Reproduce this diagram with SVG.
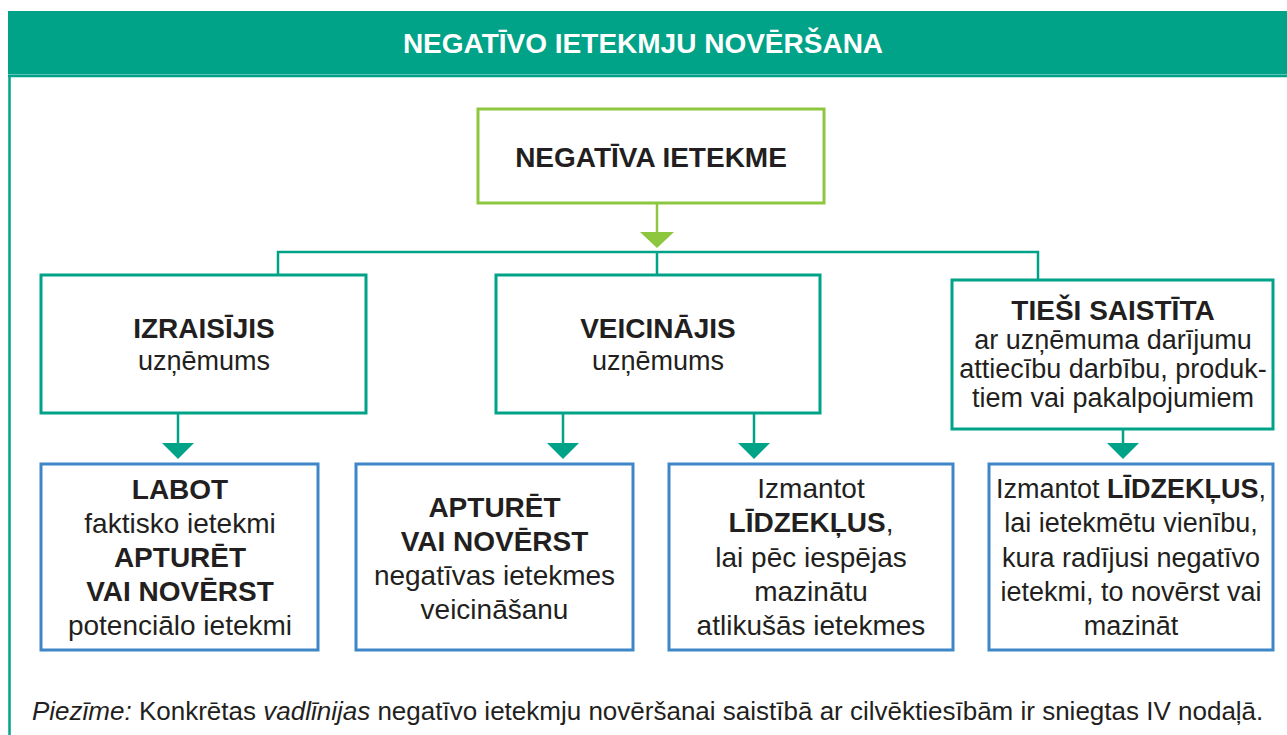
<svg xmlns="http://www.w3.org/2000/svg" width="1287" height="735" viewBox="0 0 1287 735">
<defs>
<style>
.t{font-family:"Liberation Sans",Arial,Helvetica,sans-serif;fill:#231F20;text-anchor:middle}
.b{font-weight:bold}
.f28{font-size:28px}
.f27{font-size:27px}
.teal{fill:none;stroke:#00A388;stroke-width:3}
.blue{fill:#fff;stroke:#3E86C8;stroke-width:3}
.green{fill:#fff;stroke:#8DC63F;stroke-width:3}
.conn{fill:none;stroke:#00A388;stroke-width:2.5}
.connG{fill:none;stroke:#8DC63F;stroke-width:2.5}
</style>
<marker id="ah" markerUnits="userSpaceOnUse" viewBox="0 -16 16 32" markerWidth="16" markerHeight="32" refX="10" refY="0" orient="auto">
<path d="M0,-16 L16,0 L0,16 z" fill="#00A388"/>
</marker>
<marker id="ahG" markerUnits="userSpaceOnUse" viewBox="0 -17 16 34" markerWidth="16" markerHeight="34" refX="10" refY="0" orient="auto">
<path d="M0,-17 L16,0 L0,17 z" fill="#8DC63F"/>
</marker>
</defs>
<rect width="1287" height="735" fill="#fff"/>
<g id="header">
<rect x="8" y="11" width="1279" height="63" fill="#00A388"/>
<line x1="8" y1="74.5" x2="1287" y2="74.5" stroke="#7FD0C2" stroke-width="1"/>
<line x1="8" y1="76" x2="1287" y2="76" stroke="#00A388" stroke-width="2.5"/>
<line x1="9.5" y1="75" x2="9.5" y2="735" stroke="#00A388" stroke-width="2.5"/>
<text class="t b f28" x="643" y="53" style="fill:#fff">NEGATĪVO IETEKMJU NOVĒRŠANA</text>
</g>
<g id="connectors">
<line class="connG" x1="657" y1="203" x2="657" y2="242" marker-end="url(#ahG)"/>
<polyline class="conn" points="278,275 278,252 1038,252 1038,280"/>
<line class="conn" x1="657" y1="252" x2="657" y2="275"/>
<line class="conn" x1="178" y1="413" x2="178" y2="453" marker-end="url(#ah)"/>
<line class="conn" x1="563" y1="413" x2="563" y2="453" marker-end="url(#ah)"/>
<line class="conn" x1="754" y1="413" x2="754" y2="453" marker-end="url(#ah)"/>
<line class="conn" x1="1123" y1="429" x2="1123" y2="453" marker-end="url(#ah)"/>
</g>
<g id="node-negativa">
<rect class="green" x="478" y="109" width="346" height="94"/>
<text class="t b f28" x="651" y="167">NEGATĪVA IETEKME</text>
</g>
<g id="node-izraisijis">
<rect class="teal" x="41" y="275" width="325" height="138" style="fill:#fff"/>
<text class="t b f28" x="204" y="338">IZRAISĪJIS</text>
<text class="t f27" x="204" y="370">uzņēmums</text>
</g>
<g id="node-veicinajis">
<rect class="teal" x="496" y="275" width="324" height="138" style="fill:#fff"/>
<text class="t b f28" x="658" y="338">VEICINĀJIS</text>
<text class="t f27" x="658" y="370">uzņēmums</text>
</g>
<g id="node-tiesi">
<rect class="teal" x="952" y="280" width="321" height="149" style="fill:#fff"/>
<text class="t b f28" x="1113" y="320">TIEŠI SAISTĪTA</text>
<text class="t f27" x="1113" y="349">ar uzņēmuma darījumu</text>
<text class="t f27" x="1113" y="378">attiecību darbību, produk-</text>
<text class="t f27" x="1113" y="407">tiem vai pakalpojumiem</text>
</g>
<g id="node-labot">
<rect class="blue" x="41" y="464" width="277" height="186"/>
<text class="t b f28" x="180" y="499">LABOT</text>
<text class="t f28" x="180" y="533">faktisko ietekmi</text>
<text class="t b f28" x="180" y="567">APTURĒT</text>
<text class="t b f28" x="180" y="601">VAI NOVĒRST</text>
<text class="t f28" x="180" y="635">potenciālo ietekmi</text>
</g>
<g id="node-apturet">
<rect class="blue" x="356" y="464" width="277" height="186"/>
<text class="t b f28" x="494.5" y="517">APTURĒT</text>
<text class="t b f28" x="494.5" y="551">VAI NOVĒRST</text>
<text class="t f28" x="494.5" y="585">negatīvas ietekmes</text>
<text class="t f28" x="494.5" y="619">veicināšanu</text>
</g>
<g id="node-izmantot1">
<rect class="blue" x="669" y="464" width="284" height="186"/>
<text class="t f28" x="811" y="498">Izmantot</text>
<text class="t f28" x="811" y="532"><tspan class="b">LĪDZEKĻUS</tspan>,</text>
<text class="t f28" x="811" y="567">lai pēc iespējas</text>
<text class="t f28" x="811" y="601">mazinātu</text>
<text class="t f28" x="811" y="635">atlikušās ietekmes</text>
</g>
<g id="node-izmantot2">
<rect class="blue" x="989" y="464" width="284" height="186"/>
<text class="t f27" x="1131" y="498">Izmantot <tspan class="b">LĪDZEKĻUS</tspan>,</text>
<text class="t f27" x="1131" y="532">lai ietekmētu vienību,</text>
<text class="t f27" x="1131" y="567">kura radījusi negatīvo</text>
<text class="t f27" x="1131" y="601">ietekmi, to novērst vai</text>
<text class="t f27" x="1131" y="635">mazināt</text>
</g>
<g id="note">
<text class="t" x="32" y="720" style="text-anchor:start;font-size:26px"><tspan font-style="italic">Piezīme:</tspan> Konkrētas <tspan font-style="italic">vadlīnijas</tspan> negatīvo ietekmju novēršanai saistībā ar cilvēktiesībām ir sniegtas IV nodaļā.</text>
</g>
</svg>
